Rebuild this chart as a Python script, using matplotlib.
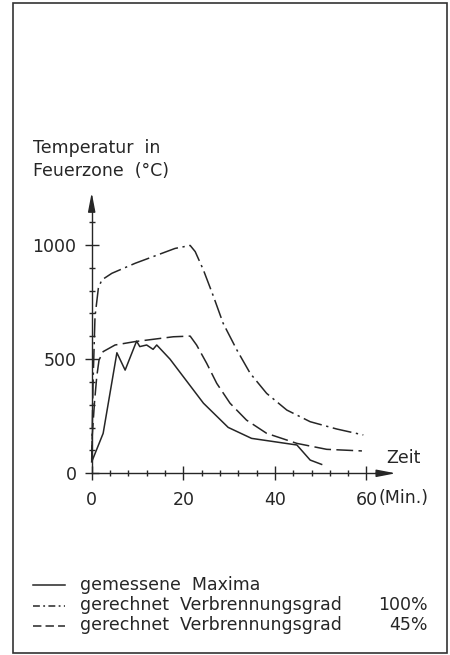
import matplotlib
matplotlib.use("Agg")
import matplotlib.pyplot as plt
from matplotlib.patches import Rectangle
from matplotlib.lines import Line2D

# ---- data ----
t_measured = [0, 2.5, 5.5, 7.3, 9.8, 10.5, 12.0, 13.4, 14.2, 17.1, 24.4, 29.8, 34.9, 44.8, 47.7, 50.2]
T_measured = [50, 175, 528, 452, 579, 555, 562, 543, 562, 500, 307, 201, 153, 124, 58, 39]

t_calc100 = [0, 0.3, 0.72, 1.45, 2.2, 4.4, 9.5, 18.2, 21.5, 22.6, 24.4, 26.6, 28.7, 31.7,
             34.6, 38.2, 42.6, 47.7, 53.5, 59.3]
T_calc100 = [60, 400, 686, 810, 847, 876, 920, 985, 998, 971, 890, 774, 657, 540,
             438, 350, 277, 226, 194, 168]

t_calc45 = [0, 0.1, 0.6, 1.1, 1.6, 2.5, 5.1, 9.5, 17.8, 21.5, 22.9, 25.1, 27.3, 30.2,
            33.8, 38.2, 44.8, 51.3, 59.0]
T_calc45 = [50, 160, 308, 423, 496, 533, 562, 577, 598, 601, 562, 482, 394, 307,
            233, 175, 131, 105, 98]

x_major = [0, 20, 40, 60]
y_major = [0, 500, 1000]
x_minor = [4, 8, 12, 16, 24, 28, 32, 36, 44, 48, 52, 56]
y_minor = [100, 200, 300, 400, 600, 700, 800, 900, 1100]

legend_labels = ["gemessene  Maxima", "gerechnet  Verbrennungsgrad", "gerechnet  Verbrennungsgrad"]
legend_pct = ["", "100%", "45%"]
y_title = ["Temperatur  in", "Feuerzone  (°C)"]
x_title = ["Zeit", "(Min.)"]

# ---- layout ----
W, H = 450, 655
DPI = 100
ink = "#262626"
plt.rcParams['font.family'] = ['DejaVu Sans']

fig = plt.figure(figsize=(W / DPI, H / DPI), dpi=DPI)
fig.patch.set_facecolor("white")

def fx(px):
    return px / W

def fy(py):
    return 1 - py / H

# pixel mapping: x=0 -> 91.7 px, 4.58 px/min ; y=0 -> 473.3 px, 0.2283 px/deg
x0p, xs = 91.7, 4.58
y0p, ys = 473.3, 0.2283
xlim = (-2, 70)
ylim = (-20, 1250)
left = x0p + xlim[0] * xs
right = x0p + xlim[1] * xs
bottom = y0p - ylim[0] * ys
top = y0p - ylim[1] * ys
ax = fig.add_axes([fx(left), fy(bottom), (right - left) / W, (bottom - top) / H])
ax.set_xlim(*xlim)
ax.set_ylim(*ylim)
ax.patch.set_alpha(0)

for s in ["top", "right"]:
    ax.spines[s].set_visible(False)
ax.spines["left"].set_position(("data", 0))
ax.spines["bottom"].set_position(("data", 0))
ax.spines["left"].set_bounds(0, 1160)
ax.spines["bottom"].set_bounds(0, 63)
for s in ["left", "bottom"]:
    ax.spines[s].set_color(ink)
    ax.spines[s].set_linewidth(1.0)

ax.set_xticks(x_major)
ax.set_yticks(y_major)
ax.set_xticks(x_minor, minor=True)
ax.set_yticks(y_minor, minor=True)
ax.tick_params(which="major", direction="inout", length=10, width=1.0, color=ink,
               labelsize=12.5, labelcolor=ink, pad=8)
ax.tick_params(axis="y", which="major", pad=6)
ax.tick_params(which="minor", direction="inout", length=4.5, width=1.0, color=ink)

# axis arrow heads
arrow_kw = dict(arrowstyle="-|>,head_length=1.15,head_width=0.22", color=ink, lw=1.0,
                mutation_scale=10, shrinkA=0, shrinkB=0)
ax.annotate("", xy=(0, 1230), xytext=(0, 1150), arrowprops=arrow_kw, annotation_clip=False)
ax.annotate("", xy=(66.4, 0), xytext=(62, 0), arrowprops=arrow_kw, annotation_clip=False)

# curves
ls_dashdot = (0, (12.5, 3.0, 1.5, 3.0))
ls_dashed = (0, (11, 3.5))
ax.plot(t_measured, T_measured, color=ink, lw=1.1, ls="-")
ax.plot(t_calc100, T_calc100, color=ink, lw=1.1, ls=ls_dashdot)
ax.plot(t_calc45, T_calc45, color=ink, lw=1.1, ls=ls_dashed)

# axis titles
fig.text(fx(33), fy(153), y_title[0], fontsize=12.5, color=ink, va="baseline", ha="left")
fig.text(fx(33), fy(176), y_title[1], fontsize=12.5, color=ink, va="baseline", ha="left")
fig.text(fx(386), fy(463), x_title[0], fontsize=12.5, color=ink, va="baseline", ha="left")
fig.text(fx(378), fy(503), x_title[1], fontsize=12.5, color=ink, va="baseline", ha="left")

# legend (manual)
leg_line_y = [585, 605.5, 626]
leg_styles = ["-", (0, (4.5, 2.2, 1.2, 2.2)), (0, (5.5, 2.7))]
for i in range(3):
    ly = leg_line_y[i]
    fig.add_artist(Line2D([fx(33), fx(65)], [fy(ly), fy(ly)], color=ink, lw=1.1,
                          ls=leg_styles[i], transform=fig.transFigure))
    fig.text(fx(80), fy(ly + 4.5), legend_labels[i], fontsize=12.5, color=ink,
             va="baseline", ha="left")
    if legend_pct[i]:
        fig.text(fx(428), fy(ly + 4.5), legend_pct[i], fontsize=12.5, color=ink,
                 va="baseline", ha="right")

# outer frame
fig.add_artist(Rectangle((fx(13), fy(653)), (447 - 13) / W, (653 - 3) / H,
                         transform=fig.transFigure, fill=False, ec="#333333", lw=1.2))

fig.savefig("out.png", dpi=DPI, facecolor="white")
